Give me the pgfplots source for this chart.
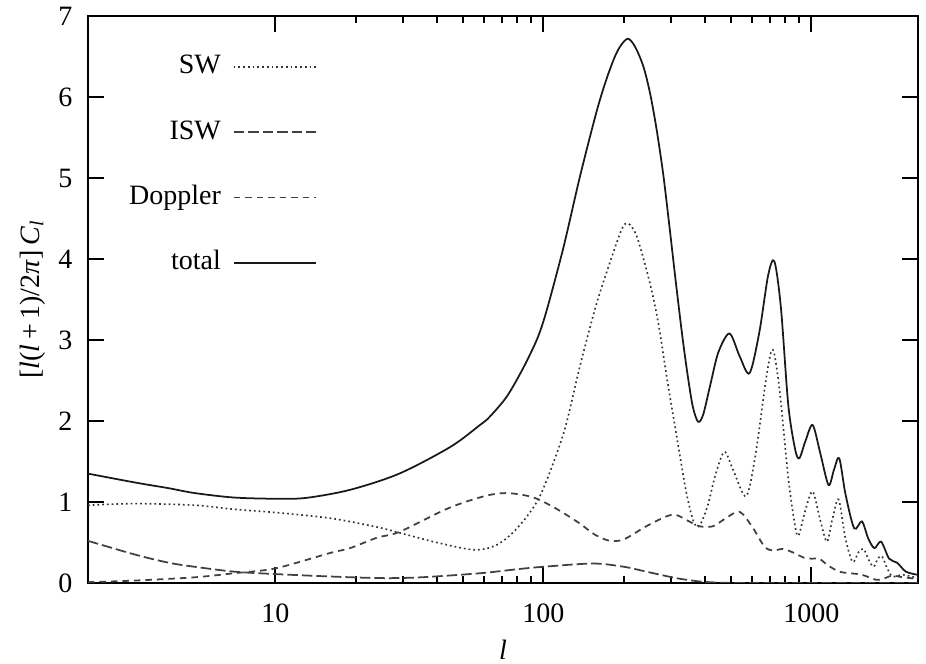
\documentclass[border=0pt]{standalone}
\usepackage{fontspec}
\setmainfont{Liberation Serif}
\usepackage{pgfplots}
\pgfplotsset{compat=1.18}
\newcommand\figfont{\fontsize{11.2}{13.4}\selectfont}
\begin{document}
\figfont
\begin{tikzpicture}
\begin{axis}[
  name=ax,
  scale only axis, width=332pt, height=226.8pt,
  xmode=log, xmin=2, xmax=2500, ymin=0, ymax=7,
  xtick={10,100,1000}, xticklabels={10,100,1000},
  ytick={0,1,...,7},
  /pgf/number format/assume math mode=true,
  tick align=inside, major tick length=6.4pt, minor tick length=2.8pt,
  axis line style={line width=0.8pt},
  every tick/.style={black, line width=0.8pt},
  tick label style={font=\figfont},
  yticklabel style={xshift=-2.3pt},
  xticklabel style={yshift=-4.3pt},
  xlabel={\textit{l}}, ylabel={[\textit{l}(\textit{l}\,+\,1)/2\textit{π}]\,\textit{C}\textsubscript{\textit{l}}},
  label style={font=\figfont},
  xlabel style={at={(rel axis cs:0.5,0)}, anchor=base, inner sep=0pt, yshift=-30.5pt},
  ylabel style={yshift=-2.4pt},
  legend plot pos=right,
  legend cell align=right,
  legend image code/.code={\path (0pt,0pt); \draw[#1] (2.8pt,0pt) -- (35.6pt,0pt);},
  legend style={draw=none, fill=none, at={(rel axis cs:0.276,0.943)}, anchor=north east,
    inner sep=0pt, row sep=11.6pt, font=\figfont,
    nodes={text height=8pt, text depth=2.5pt}},
]
% SW
\addplot[black!80, line width=0.65pt, dash pattern=on 0.7pt off 1.2pt, smooth, tension=0.5] coordinates {
(2,0.96)(3,0.98)(5,0.96)(7,0.91)(10,0.87)(16,0.80)(24,0.69)(29,0.62)(40,0.50)(55,0.41)(67,0.47)(80,0.68)
(97,1.07)(119,1.85)(137,2.68)(158,3.45)(182,4.07)(197,4.38)(207,4.44)(222,4.30)(242,3.88)(258,3.50)
(272,3.10)(290,2.50)(313,1.85)(340,1.15)(360,0.80)(372,0.70)(385,0.72)(410,0.95)(440,1.35)(474,1.62)
(510,1.40)(571,1.07)(620,1.60)(680,2.55)(718,2.88)(760,2.40)(820,1.30)(870,0.70)(897,0.59)(950,0.90)
(1011,1.13)(1075,0.80)(1143,0.51)(1200,0.80)(1264,1.03)(1340,0.55)(1425,0.26)(1500,0.38)(1567,0.42)
(1640,0.28)(1708,0.20)(1770,0.30)(1834,0.33)(1920,0.18)(2010,0.08)(2200,0.10)(2500,0.06)};
\addlegendentry{SW}
% ISW
\addplot[black!75, line width=0.7pt, dash pattern=on 4.2pt off 1.6pt, smooth, tension=0.5] coordinates {
(2,0.52)(3,0.35)(4,0.25)(5,0.20)(7,0.14)(10,0.11)(16,0.08)(25,0.06)(35,0.07)(58,0.12)(80,0.17)
(100,0.20)(153,0.24)(200,0.20)(242,0.14)(313,0.06)(380,0.02)(450,0.005)(600,0)(2500,0)};
\addlegendentry{ISW}
% Doppler
\addplot[black!75, line width=0.7pt, dash pattern=on 2.6pt off 2.0pt, smooth, tension=0.5] coordinates {
(2,0.01)(3,0.03)(5,0.07)(7,0.12)(10,0.18)(16,0.37)(19,0.43)(24,0.56)(29,0.63)(44,0.92)(60,1.07)
(73,1.11)(91,1.06)(110,0.93)(136,0.74)(155,0.60)(177,0.52)(200,0.54)(242,0.70)(287,0.82)(313,0.84)
(350,0.76)(383,0.70)(429,0.70)(480,0.80)(539,0.88)(600,0.70)(668,0.45)(720,0.40)(780,0.42)(850,0.38)
(942,0.31)(1011,0.30)(1071,0.30)(1150,0.22)(1271,0.14)(1400,0.12)(1549,0.10)(1740,0.04)(1850,0.05)
(2000,0.09)(2200,0.07)(2500,0.05)};
\addlegendentry{Doppler}
% total
\addplot[black!90, line width=0.7pt, smooth, tension=0.5] coordinates {
(2,1.35)(3,1.24)(4,1.17)(5,1.11)(7,1.055)(10,1.04)(13,1.05)(19,1.15)(29,1.35)(45,1.68)(58,1.95)
(63,2.05)(73,2.30)(84,2.65)(95,3.02)(103,3.37)(119,4.15)(137,5.02)(158,5.82)(172,6.22)(185,6.50)(195,6.64)
(207,6.72)(220,6.62)(236,6.38)(250,6.05)(264,5.62)(280,5.05)(296,4.38)(313,3.68)(330,3.05)(345,2.58)
(361,2.18)(378,1.99)(395,2.08)(420,2.45)(450,2.85)(495,3.08)(540,2.80)(588,2.59)(640,3.10)(690,3.80)
(728,3.97)(770,3.40)(820,2.20)(870,1.65)(902,1.54)(950,1.75)(1011,1.95)(1080,1.60)(1159,1.21)
(1215,1.40)(1271,1.54)(1340,1.10)(1445,0.675)(1544,0.76)(1630,0.55)(1719,0.43)(1821,0.51)(1951,0.30)
(2090,0.25)(2253,0.14)(2500,0.10)};
\addlegendentry{total}
\end{axis}
\pgfresetboundingbox
\path[use as bounding box] ([shift={(-35.2pt,-32.4pt)}]ax.south west) rectangle ([shift={(3.2pt,6.4pt)}]ax.north east);
\end{tikzpicture}
\end{document}
